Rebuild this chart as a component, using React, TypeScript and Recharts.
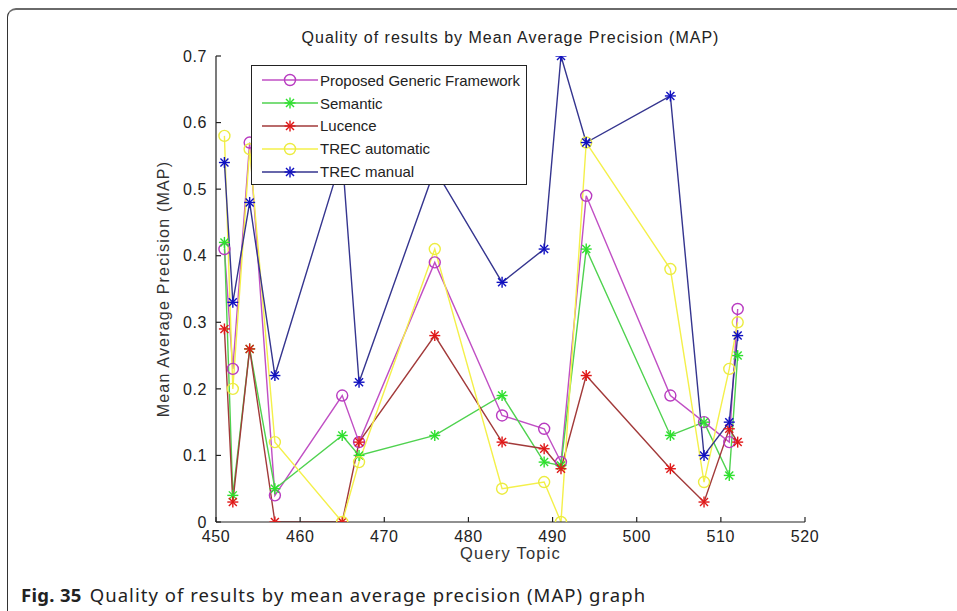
import { LineChart, Line, XAxis, YAxis } from "recharts";

const topics = [451, 452, 454, 457, 465, 467, 476, 484, 489, 491, 494, 504, 508, 511, 512];
const proposed = [0.41, 0.23, 0.57, 0.04, 0.19, 0.12, 0.39, 0.16, 0.14, 0.09, 0.49, 0.19, 0.15, 0.12, 0.32];
const semantic = [0.42, 0.04, 0.26, 0.05, 0.13, 0.1, 0.13, 0.19, 0.09, 0.085, 0.41, 0.13, 0.15, 0.07, 0.25];
const lucence = [0.29, 0.03, 0.26, 0.0, 0.0, 0.12, 0.28, 0.12, 0.11, 0.08, 0.22, 0.08, 0.03, 0.14, 0.12];
const trecAuto = [0.58, 0.2, 0.56, 0.12, 0.0, 0.09, 0.41, 0.05, 0.06, 0.0, 0.57, 0.38, 0.06, 0.23, 0.3];
const trecManual = [0.54, 0.33, 0.48, 0.22, 0.55, 0.21, 0.53, 0.36, 0.41, 0.7, 0.57, 0.64, 0.1, 0.15, 0.28];

const xTicks = [450, 460, 470, 480, 490, 500, 510, 520];
const yTicks = [0, 0.1, 0.2, 0.3, 0.4, 0.5, 0.6, 0.7];

type Marker = "circle" | "star";
const series: { key: string; name: string; line: string; mark: string; marker: Marker }[] = [
  { key: "proposed", name: "Proposed Generic Framework", line: "#c04fc4", mark: "#b83ac0", marker: "circle" },
  { key: "semantic", name: "Semantic", line: "#4fd24f", mark: "#2ee02e", marker: "star" },
  { key: "lucence", name: "Lucence", line: "#a23a3a", mark: "#e01818", marker: "star" },
  { key: "trecAuto", name: "TREC automatic", line: "#f4f04a", mark: "#ecec40", marker: "circle" },
  { key: "trecManual", name: "TREC manual", line: "#35358f", mark: "#1010c0", marker: "star" },
];

const rows = topics.map((t, i) => ({
  topic: t,
  proposed: proposed[i],
  semantic: semantic[i],
  lucence: lucence[i],
  trecAuto: trecAuto[i],
  trecManual: trecManual[i],
}));

const FONT = "'Liberation Sans', Arial, sans-serif";
const axisText = { fill: "#222", fontFamily: FONT, fontSize: 16, letterSpacing: 0.6 };

function MarkShape({ cx, cy, color, marker }: { cx: number; cy: number; color: string; marker: Marker }) {
  if (marker === "circle") {
    return <circle cx={cx} cy={cy} r={5.5} fill="none" stroke={color} strokeWidth={1.4} />;
  }
  const s = 5.5;
  const d = 4;
  return (
    <g stroke={color} strokeWidth={1.4}>
      <line x1={cx - s} y1={cy} x2={cx + s} y2={cy} />
      <line x1={cx} y1={cy - s} x2={cx} y2={cy + s} />
      <line x1={cx - d} y1={cy - d} x2={cx + d} y2={cy + d} />
      <line x1={cx - d} y1={cy + d} x2={cx + d} y2={cy - d} />
    </g>
  );
}

function LegendBox() {
  return (
    <div
      style={{
        position: "absolute",
        left: 251,
        top: 65,
        width: 276,
        height: 120,
        border: "1.5px solid #222",
        background: "#fff",
        fontFamily: FONT,
        fontSize: 15,
        color: "#222",
        boxSizing: "border-box",
        paddingTop: 3,
      }}
    >
      {series.map((s) => (
        <div key={s.key} style={{ display: "flex", alignItems: "center", height: 22.8 }}>
          <svg width={68} height={14} style={{ marginLeft: 10 }}>
            <line x1={0} y1={7} x2={56} y2={7} stroke={s.line} strokeWidth={1.4} />
            <MarkShape cx={28} cy={7} color={s.mark} marker={s.marker} />
          </svg>
          <span style={{ marginLeft: -10 }}>{s.name}</span>
        </div>
      ))}
    </div>
  );
}

export default function App() {
  return (
    <div style={{ position: "absolute", left: 0, top: 0, width: 957, height: 611, overflow: "hidden", background: "#fff" }}>
      <div
        style={{
          position: "absolute",
          left: 7,
          top: 8,
          width: 1100,
          height: 800,
          borderTop: "2px solid #6a6a6a",
          borderLeft: "1.5px solid #333",
          borderTopLeftRadius: 9,
        }}
      />
      <div
        style={{
          position: "absolute",
          left: 216,
          width: 589,
          top: 29,
          textAlign: "center",
          fontFamily: FONT,
          fontSize: 16,
          letterSpacing: 1,
          color: "#222",
        }}
      >
        Quality of results by Mean Average Precision (MAP)
      </div>
      <div style={{ position: "absolute", left: 0, top: 0 }}>
        <LineChart
          width={957}
          height={611}
          data={rows}
          margin={{ top: 56, right: 152, left: 156, bottom: 49 }}
        >
          <XAxis
            dataKey="topic"
            type="number"
            domain={[450, 520]}
            ticks={xTicks}
            allowDataOverflow
            stroke="#222"
            strokeWidth={1.2}
            tickSize={-5}
            tickMargin={14}
            height={40}
            tick={axisText}
            label={{ value: "Query Topic", position: "insideBottom", offset: 3, fill: "#333", fontFamily: FONT, fontSize: 16.5, letterSpacing: 1.2 }}
          />
          <XAxis
            xAxisId="top"
            dataKey="topic"
            type="number"
            orientation="top"
            domain={[450, 520]}
            ticks={xTicks}
            allowDataOverflow
            stroke="#222"
            strokeWidth={1.2}
            tickSize={-5}
            tick={false}
            height={0}
          />
          <YAxis
            type="number"
            domain={[0, 0.7]}
            ticks={yTicks}
            allowDataOverflow
            stroke="#222"
            strokeWidth={1.2}
            tickSize={-5}
            tickMargin={14}
            width={60}
            tickFormatter={(v: number) => (v === 0 ? "0" : v.toFixed(1))}
            tick={axisText}
            label={{
              value: "Mean Average Precision (MAP)",
              angle: -90,
              position: "insideLeft",
              offset: 7,
              style: { textAnchor: "middle", letterSpacing: 1.2 },
              fill: "#333",
              fontFamily: FONT,
              fontSize: 16,
            }}
          />
          <YAxis
            yAxisId="right"
            type="number"
            orientation="right"
            domain={[0, 0.7]}
            ticks={yTicks}
            allowDataOverflow
            stroke="#222"
            strokeWidth={1.2}
            tickSize={-5}
            tick={false}
            width={0}
          />
          {series.map((s) => (
            <Line
              key={s.key}
              dataKey={s.key}
              name={s.name}
              type="linear"
              stroke={s.line}
              strokeWidth={1.4}
              isAnimationActive={false}
              activeDot={false}
              dot={(p: any) => (
                <MarkShape key={`${s.key}-${p.index}`} cx={p.cx} cy={p.cy} color={s.mark} marker={s.marker} />
              )}
            />
          ))}
        </LineChart>
      </div>
      <LegendBox />
      <div
        style={{
          position: "absolute",
          left: 21,
          top: 582,
          fontFamily: "'Noto Sans', 'Open Sans', sans-serif",
          fontSize: 18.5,
          color: "#222",
          whiteSpace: "nowrap",
        }}
      >
        <b style={{ letterSpacing: 0.3 }}>Fig. 35</b>
        <span style={{ marginLeft: 8, letterSpacing: 1.05 }}>Quality of results by mean average precision (MAP) graph</span>
      </div>
    </div>
  );
}
